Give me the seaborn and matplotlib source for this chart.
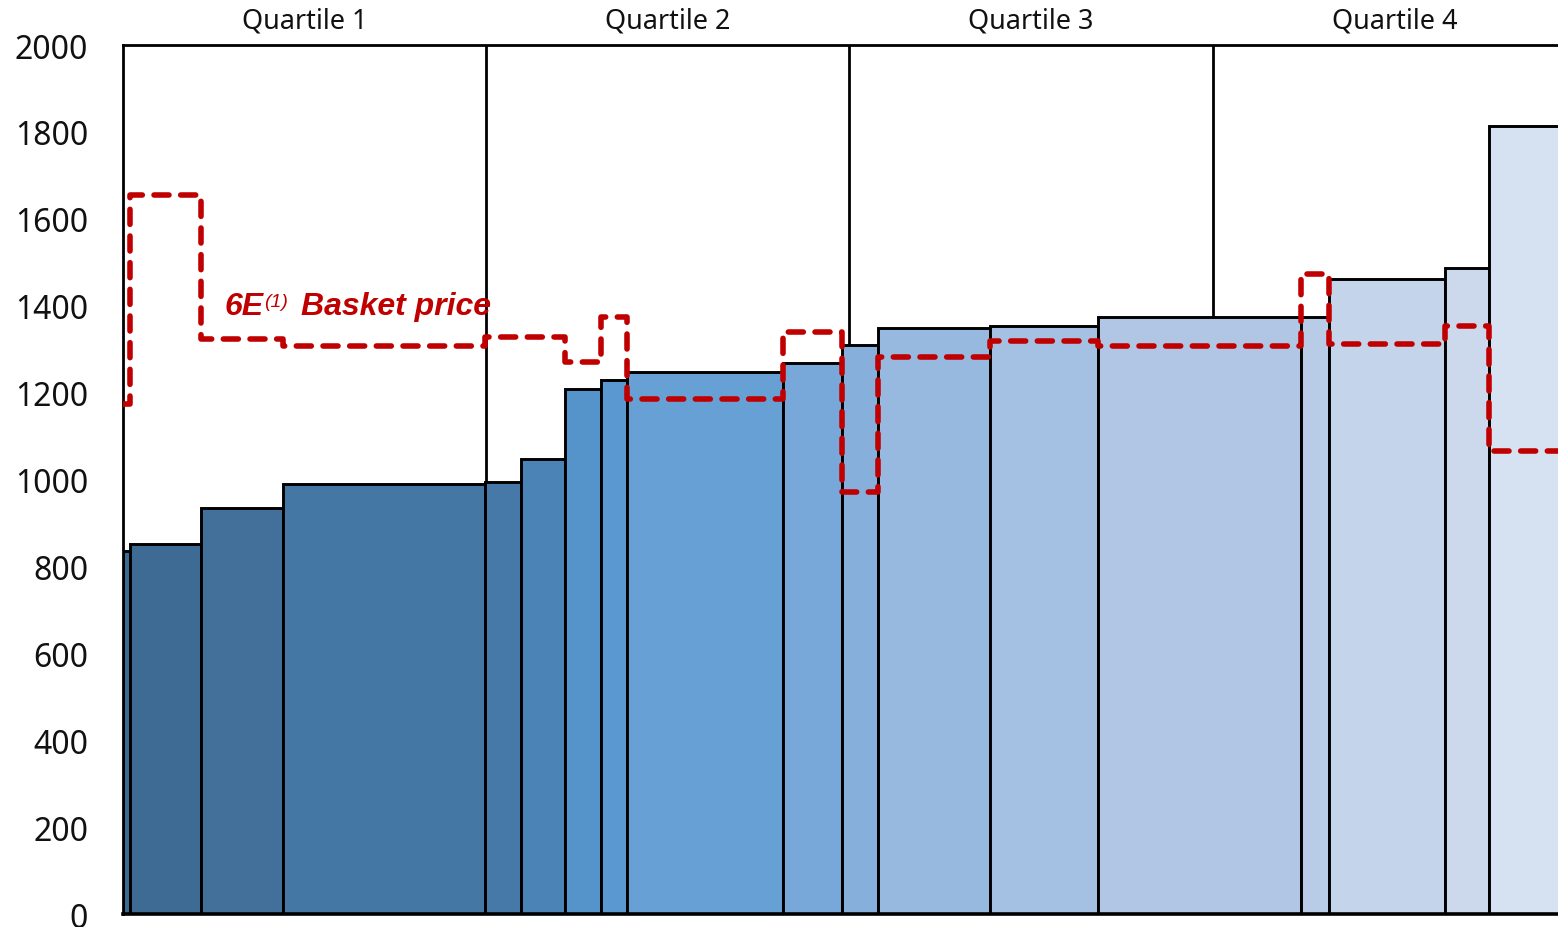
import numpy as np
import pandas as pd
import matplotlib
matplotlib.use("Agg")
import matplotlib.pyplot as plt
import seaborn as sns

# Share of total capacity (%) for each producer, ordered by cost
widths = [0.5, 4.9, 5.6, 13.9, 2.5, 3.0, 2.5, 1.8, 10.7, 4.1, 2.5, 7.7, 7.4, 14.0, 1.9, 8.0, 3.0, 6.0]
# Cost per producer
costs = [835, 851, 934, 990, 994, 1047, 1208, 1229, 1247, 1268, 1310, 1349, 1353, 1374, 1374, 1461, 1487, 1814]
# 6E basket price realised by each producer
basket = [1174, 1655, 1323, 1307, 1328, 1328, 1270, 1374, 1185, 1339, 971, 1282, 1319, 1307, 1473, 1312, 1353, 1066]
colors = ["#3d6a91", "#3e6b93", "#43709b", "#4577a5", "#4779a8", "#4c83b6",
          "#5593cb", "#5a98d1", "#67a0d5", "#78a8d9", "#86afdc", "#97b8df",
          "#a4c0e3", "#b1c6e5", "#b9cce7", "#c4d4eb", "#ccd9ed", "#d6e1f1"]
quartiles = ["Quartile 1", "Quartile 2", "Quartile 3", "Quartile 4"]
yticks = [0, 200, 400, 600, 800, 1000, 1200, 1400, 1600, 1800, 2000]

sns.set_theme(style="white")
plt.rcParams["font.family"] = ["Noto Sans", "DejaVu Sans"]

fig = plt.figure(figsize=(15.58, 9.28), dpi=100)
ax = fig.add_axes([0.0789, 0.0140, 0.9326, 0.9364])

left_edges = np.concatenate([[0], np.cumsum(widths)[:-1]])

# quartile separators sit behind the bars
for q in (25, 50, 75):
    ax.axvline(q, color="black", lw=2.0, zorder=1)

ax.bar(left_edges, costs, width=widths, align="edge", color=colors,
       edgecolor="black", linewidth=2.1, zorder=2)

# step line of basket price across each producer's capacity
step_df = pd.DataFrame({
    "x": list(left_edges) + [100.0],
    "price": basket + [basket[-1]],
})
sns.lineplot(data=step_df, x="x", y="price", ax=ax, estimator=None, sort=False,
             drawstyle="steps-post", color="#c00000", lw=4.0,
             dashes=False, zorder=4)
line = ax.get_lines()[-1]
line.set_dashes((2.7, 2.1))
line.set_dash_capstyle("round")

# label for the basket price line
lab_font = dict(family=["Liberation Sans", "DejaVu Sans"], color="#c00000",
                style="italic", weight="bold")
t1 = ax.text(7.0, 1381, "6E", fontsize=23, va="baseline", ha="left", zorder=5, **lab_font)
t2 = ax.annotate("(1)", xy=(1, 0), xycoords=t1, xytext=(0, 8), textcoords="offset points",
                 fontsize=14, va="bottom", ha="left", zorder=5,
                 family=["Liberation Sans", "DejaVu Sans"], color="#c00000", style="italic")
ax.annotate("Basket price", xy=(1, 0), xycoords=t1, xytext=(27, 0),
            textcoords="offset points", fontsize=23, va="bottom", ha="left",
            zorder=5, **lab_font)

# quartile headers above the plot
for i, q in enumerate(quartiles):
    ax.text(12.5 + 25 * i, 1.012, q, transform=ax.get_xaxis_transform(),
            ha="center", va="bottom", fontsize=19.5, color="#111111")

ax.set_xlim(0, 100)
ax.set_ylim(0, 2000)
ax.set_yticks(yticks)
ax.set_yticklabels([str(v) for v in yticks], fontsize=23, color="#111111")
ax.set_xticks([])
ax.tick_params(axis="y", length=0, pad=25)
ax.set_xlabel("")
ax.set_ylabel("")

for side in ("left", "top", "bottom"):
    ax.spines[side].set_visible(True)
    ax.spines[side].set_color("black")
    ax.spines[side].set_linewidth(2.0)
ax.spines["bottom"].set_linewidth(2.6)
ax.spines["right"].set_visible(False)

fig.savefig("out.png", dpi=100)
